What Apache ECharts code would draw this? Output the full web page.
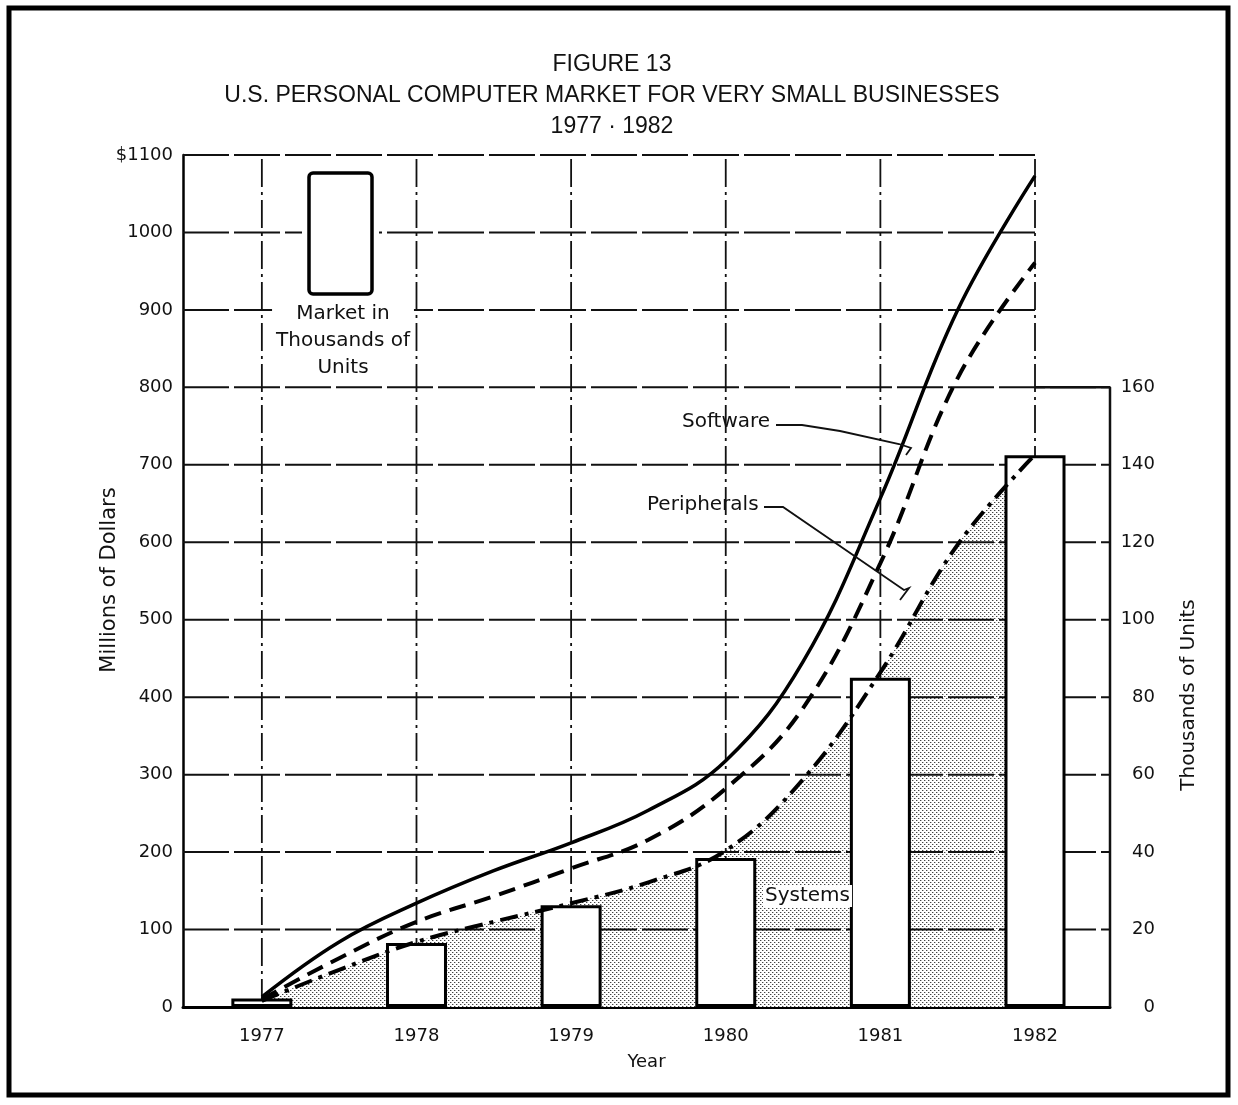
<!DOCTYPE html>
<html>
<head>
<meta charset="utf-8">
<title>Figure 13</title>
<script src="https://cdn.jsdelivr.net/npm/echarts@6/dist/echarts.min.js"></script>
<style>
  html, body { margin: 0; padding: 0; background: #fff; }
  #chart { width: 1238px; height: 1105px; }
</style>
</head>
<body>
<div id="chart"></div>
<script>
// values
const years = [1977, 1978, 1979, 1980, 1981, 1982];
const unitsThousands = [2.2, 16.5, 26.3, 38.5, 85, 142.5];

const curveYears = [1977, 1977.5, 1978, 1978.5, 1979, 1979.5, 1980, 1980.5, 1981, 1981.5, 1982];
const software = [13, 84, 134, 176, 212, 254, 318, 446, 657, 900, 1073];
const peripherals = [10, 63, 110, 143, 179, 216, 282, 386, 573, 812, 961];
const systems = [8, 48, 84, 110, 134, 161, 202, 294, 432, 597, 713];

const dollarTicks = [0, 100, 200, 300, 400, 500, 600, 700, 800, 900, 1000, 1100];
const unitTicks = [0, 20, 40, 60, 80, 100, 120, 140, 160];

const FONT = "DejaVu Sans";
const xMin = 1976.49, xMax = 1982.485;

const chart = echarts.init(document.getElementById("chart"));

// stipple used for the systems area
const dots = document.createElement("canvas");
dots.width = 4;
dots.height = 4;
const ctx = dots.getContext("2d");
ctx.fillStyle = "#fff";
ctx.fillRect(0, 0, 4, 4);
ctx.fillStyle = "#444";
ctx.fillRect(0, 0, 1, 1);
ctx.fillRect(2, 2, 1, 1);
ctx.fillStyle = "#bbb";
ctx.fillRect(1, 0, 1, 1);
ctx.fillRect(3, 2, 1, 1);

const pairs = (vals) => curveYears.map((y, i) => [y, vals[i]]);

// grid lines as plain line series so they sit under the bars
const gridSeries = [];
dollarTicks.filter((v) => v > 0).forEach((v) => {
  gridSeries.push({
    type: "line",
    silent: true,
    clip: false,
    symbol: "none",
    z: 2,
    data: [[xMin, v], [v > 800 ? 1982 : xMax, v]],
    lineStyle: { color: "#111", width: 2, type: [46, 5] },
  });
});
years.forEach((yr) => {
  gridSeries.push({
    type: "line",
    silent: true,
    clip: false,
    symbol: "none",
    z: 2,
    data: [[yr, 0], [yr, 1100]],
    lineStyle: { color: "#111", width: 1.8, type: [28, 5, 3, 5] },
  });
});
// right-hand box for the units scale
gridSeries.push({
  type: "line",
  silent: true,
  clip: false,
  symbol: "none",
  yAxisIndex: 1,
  z: 3,
  data: [[1982, 160], [xMax, 160], [xMax, 0]],
  lineStyle: { color: "#111", width: 2.5 },
});

const smoothing = { smooth: 0.4 };

const option = {
  backgroundColor: "#fff",
  animation: false,
  grid: {
    left: 183,
    right: 128,
    top: 155,
    bottom: 98,
    outerBoundsMode: "none",
  },
  xAxis: {
    type: "value",
    min: xMin,
    max: xMax,
    axisLine: { show: true, lineStyle: { color: "#000", width: 3 } },
    axisTick: { show: false },
    splitLine: { show: false },
    axisLabel: {
      customValues: years,
      formatter: (v) => String(v),
      margin: 20,
      fontSize: 18,
      fontFamily: FONT,
      color: "#111",
    },
    name: "Year",
    nameLocation: "middle",
    nameGap: 46,
    nameTextStyle: { fontSize: 18, fontFamily: FONT, color: "#111" },
  },
  yAxis: [
    {
      type: "value",
      min: 0,
      max: 1100,
      interval: 100,
      axisLine: { show: true, lineStyle: { color: "#000", width: 2.5 } },
      axisTick: { show: false },
      splitLine: { show: false },
      axisLabel: {
        formatter: (v) => (v === 1100 ? "$1100" : String(v)),
        margin: 10,
        fontSize: 18,
        fontFamily: FONT,
        color: "#111",
      },
    },
    {
      type: "value",
      position: "right",
      min: 0,
      max: 220,
      interval: 20,
      axisLine: { show: false },
      axisTick: { show: false },
      splitLine: { show: false },
      axisLabel: {
        formatter: (v) => (unitTicks.includes(v) ? String(v) : ""),
        align: "right",
        margin: 45,
        fontSize: 18,
        fontFamily: FONT,
        color: "#111",
      },
    },
  ],
  series: [
    {
      name: "Systems area",
      type: "line",
      silent: true,
      ...smoothing,
      symbol: "none",
      z: 1,
      data: pairs(systems),
      lineStyle: { width: 0 },
      areaStyle: { color: { image: dots, repeat: "repeat" }, opacity: 1 },
    },
    ...gridSeries,
    {
      name: "Market in Thousands of Units",
      type: "bar",
      yAxisIndex: 1,
      z: 4,
      barWidth: 61,
      data: years.map((y, i) => [y, unitsThousands[i]]),
      itemStyle: { color: "#fff", borderColor: "#000", borderWidth: 3 },
    },
    {
      name: "Systems",
      type: "line",
      ...smoothing,
      symbol: "none",
      z: 6,
      data: pairs(systems),
      lineStyle: { color: "#000", width: 4, type: [18, 7, 4, 7] },
    },
    {
      name: "Peripherals",
      type: "line",
      ...smoothing,
      symbol: "none",
      z: 6,
      data: pairs(peripherals),
      lineStyle: { color: "#000", width: 4, type: [17, 9] },
    },
    {
      name: "Software",
      type: "line",
      ...smoothing,
      symbol: "none",
      z: 6,
      data: pairs(software),
      lineStyle: { color: "#000", width: 3.5 },
    },
  ],
  graphic: [
    // title
    {
      type: "text",
      z: 100,
      x: 612,
      y: 49,
      style: {
        text: "FIGURE 13\nU.S. PERSONAL COMPUTER MARKET FOR VERY SMALL BUSINESSES\n1977 · 1982",
        fontFamily: "Liberation Sans",
        fontSize: 23,
        lineHeight: 31,
        fill: "#111",
        align: "center",
      },
    },
    // page frame
    {
      type: "rect",
      z: 100,
      shape: { x: 9, y: 8, width: 1219, height: 1087 },
      style: { fill: null, stroke: "#000", lineWidth: 5 },
    },
    // axis titles
    {
      type: "text",
      z: 91,
      rotation: Math.PI / 2,
      x: 110,
      y: 580,
      style: {
        text: "Millions of Dollars",
        fontFamily: FONT,
        fontSize: 21,
        fill: "#111",
        align: "center",
        verticalAlign: "middle",
      },
    },
    {
      type: "text",
      z: 91,
      rotation: Math.PI / 2,
      x: 1189,
      y: 695,
      style: {
        text: "Thousands of Units",
        fontFamily: FONT,
        fontSize: 20,
        fill: "#111",
        align: "center",
        verticalAlign: "middle",
      },
    },
    // legend swatch
    {
      type: "rect",
      z: 90,
      shape: { x: 302, y: 167, width: 77, height: 133 },
      style: { fill: "#fff" },
    },
    {
      type: "rect",
      z: 91,
      shape: { x: 309, y: 173, width: 63, height: 121, r: 4 },
      style: { fill: "#fff", stroke: "#000", lineWidth: 3.5 },
    },
    {
      type: "text",
      z: 91,
      x: 343,
      y: 300,
      style: {
        text: "Market in\nThousands of\nUnits",
        fontFamily: FONT,
        fontSize: 20,
        lineHeight: 27,
        fill: "#111",
        align: "center",
        backgroundColor: "#fff",
        padding: [0, 4],
      },
    },
    // callouts
    {
      type: "text",
      z: 91,
      x: 682,
      y: 412,
      style: { text: "Software", fontFamily: FONT, fontSize: 20, fill: "#111" },
    },
    {
      type: "polyline",
      z: 91,
      shape: { points: [[776, 425], [802, 425], [840, 431], [899, 444], [911, 448], [906, 455]] },
      style: { stroke: "#111", lineWidth: 1.8, fill: null },
    },
    {
      type: "text",
      z: 91,
      x: 647,
      y: 495,
      style: { text: "Peripherals", fontFamily: FONT, fontSize: 20, fill: "#111" },
    },
    {
      type: "polyline",
      z: 91,
      shape: { points: [[764, 507], [783, 507], [904, 590], [909, 588], [900, 600]] },
      style: { stroke: "#111", lineWidth: 1.8, fill: null },
    },
    {
      type: "text",
      z: 91,
      x: 763,
      y: 885,
      style: {
        text: "Systems",
        fontFamily: FONT,
        fontSize: 20,
        fill: "#111",
        backgroundColor: "#fff",
        padding: [1, 2],
      },
    },
  ],
};

chart.setOption(option);
</script>
</body>
</html>
